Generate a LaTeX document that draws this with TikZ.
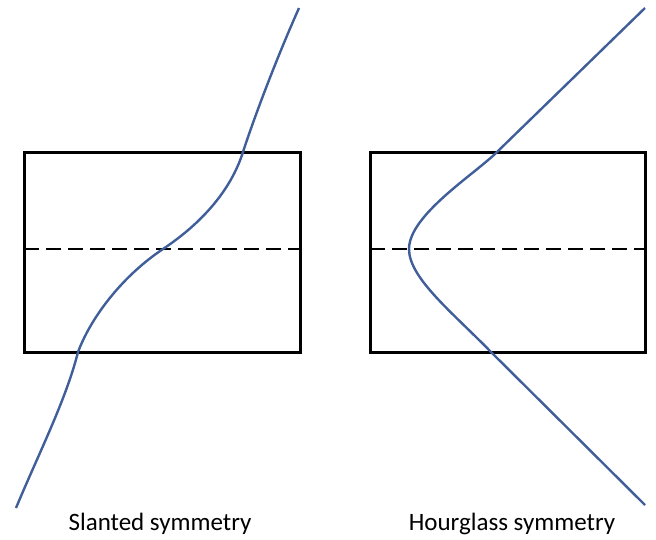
\documentclass[tikz,border=0pt]{standalone}
\usepackage{fontspec}
\setmainfont{Carlito}
\definecolor{curveblue}{HTML}{3F5E9A}
\tikzset{
  box/.style={draw=black,line width=3pt},
  midline/.style={draw=black,line width=2.7pt,dash pattern=on 15pt off 7pt},
  curve/.style={draw=curveblue,line width=2.4pt},
  label/.style={font=\fontsize{25}{29}\selectfont,anchor=base,inner sep=0pt}
}
\begin{document}
\begin{tikzpicture}[x=1pt,y=-1pt]
\useasboundingbox (0,0) rectangle (656,539);
% left panel
\draw[box] (24,152) rectangle (300,352);
\draw[midline] (24,249) -- (300,249);
\draw[curve] (16,508) .. controls (38,455) and (66,400) .. (78,352)
  .. controls (92,315) and (124,275) .. (163,249)
  .. controls (202,223) and (231,190) .. (243,152)
  .. controls (252,124) and (274,64) .. (299,8);
% right panel
\draw[box] (370,152) rectangle (645,352);
\draw[midline] (370,249) -- (645,249);
\draw[curve] (645,8) -- (497,152)
  .. controls (475,174) and (409,215) .. (409,249)
  .. controls (409,278) and (452,312) .. (491,352)
  -- (645,505);
% labels
\node[label] (l1) at (160,530) {Slanted symmetry};
\node[label] (l2) at (512,530) {Hourglass symmetry};
\end{tikzpicture}
\end{document}
